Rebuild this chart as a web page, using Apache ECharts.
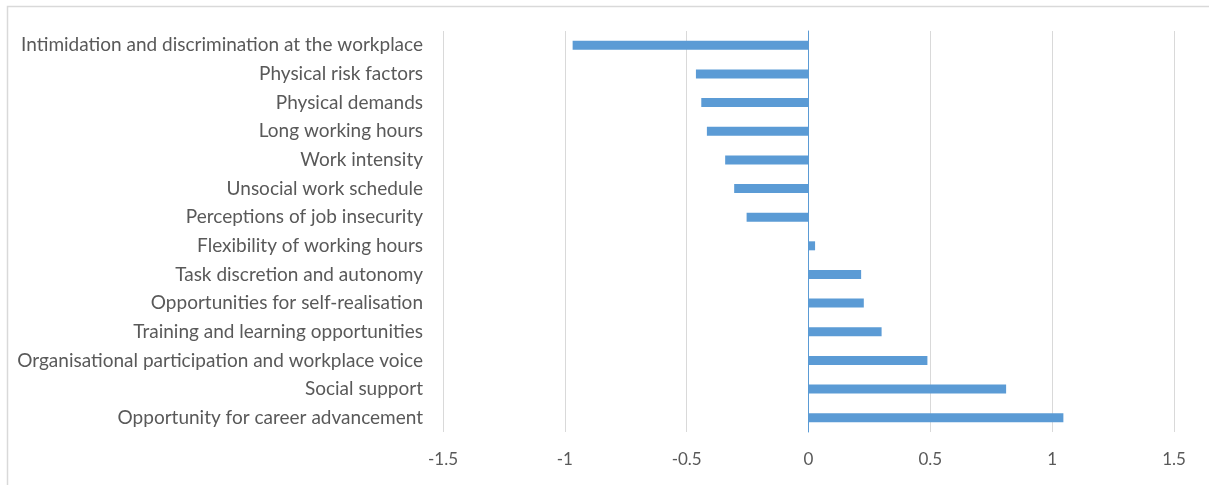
<!DOCTYPE html>
<html>
<head>
<meta charset="utf-8">
<script src="https://cdn.jsdelivr.net/npm/echarts@6/dist/echarts.min.js"></script>
<style>
    html, body { margin: 0; padding: 0; background: #fff; }
    #chart { width: 1209px; height: 485px; }
</style>
</head>
<body>
<div id="chart"></div>
<script>
var categories = [
    'Intimidation and discrimination at the workplace',
    'Physical risk factors',
    'Physical demands',
    'Long working hours',
    'Work intensity',
    'Unsocial work schedule',
    'Perceptions of job insecurity',
    'Flexibility of working hours',
    'Task discretion and autonomy',
    'Opportunities for self-realisation',
    'Training and learning opportunities',
    'Organisational participation and workplace voice',
    'Social support',
    'Opportunity for career advancement'
];
var values = [-0.968, -0.462, -0.44, -0.417, -0.342, -0.305, -0.254, 0.027, 0.216, 0.227, 0.30, 0.488, 0.811, 1.046];

var chart = echarts.init(document.getElementById('chart'));
var option = {
    animation: false,
    backgroundColor: '#fff',
    graphic: [{
        type: 'rect',
        shape: { x: 7.5, y: 6.5, width: 1220, height: 490 },
        style: { fill: 'none', stroke: '#d9d9d9', lineWidth: 1.5 },
        silent: true
    }],
    grid: {
        left: 443,
        right: 35,
        top: 31,
        bottom: 53
    },
    xAxis: {
        type: 'value',
        min: -1.5,
        max: 1.5,
        interval: 0.5,
        axisLine: { show: false },
        axisTick: { show: false },
        splitLine: { show: true, lineStyle: { color: '#d9d9d9', width: 1 } },
        axisLabel: {
            color: '#595959',
            fontFamily: 'Lato',
            fontSize: 17,
            margin: 19
        }
    },
    yAxis: {
        type: 'category',
        inverse: true,
        data: categories,
        axisLine: { show: true, onZero: true, lineStyle: { color: '#5b9bd5', width: 1 } },
        axisTick: { show: false },
        axisLabel: {
            color: '#595959',
            fontFamily: 'Lato',
            fontSize: 19,
            margin: 20
        }
    },
    series: [{
        name: 'value',
        type: 'bar',
        data: values,
        barWidth: 9,
        itemStyle: { color: '#5b9bd5' }
    }]
};
chart.setOption(option);
</script>
</body>
</html>
